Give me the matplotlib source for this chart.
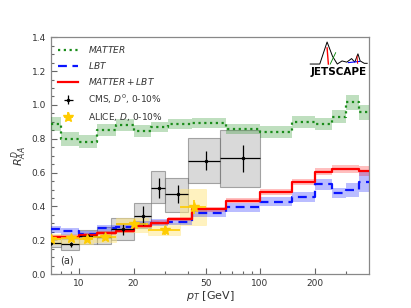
import matplotlib; matplotlib.use('Agg')
import matplotlib.pyplot as plt
import matplotlib.ticker as mt
from matplotlib.patches import Rectangle
import numpy as np

# ---- model curves (step histograms) ----
edges = [7, 8, 10, 12.5, 16, 20, 25, 31, 42, 65, 100, 150, 200, 250, 300, 350, 400]
matter = [0.887, 0.798, 0.783, 0.852, 0.879, 0.846, 0.869, 0.885, 0.891, 0.858,
          0.842, 0.901, 0.887, 0.931, 1.015, 0.956]
matter_err = [0.04, 0.04, 0.04, 0.035, 0.035, 0.035, 0.03, 0.03, 0.03, 0.03,
              0.035, 0.035, 0.035, 0.04, 0.045, 0.045]
lbt = [0.264, 0.254, 0.235, 0.27, 0.28, 0.296, 0.303, 0.31, 0.359, 0.394,
       0.428, 0.457, 0.53, 0.481, 0.497, 0.546]
lbt_err = [0.02, 0.02, 0.02, 0.02, 0.02, 0.02, 0.02, 0.02, 0.02, 0.025,
           0.025, 0.03, 0.03, 0.03, 0.04, 0.06]
mlbt = [0.217, 0.217, 0.233, 0.241, 0.257, 0.287, 0.305, 0.328, 0.383, 0.434,
        0.483, 0.542, 0.605, 0.621, 0.621, 0.608]
mlbt_err = [0.012, 0.012, 0.012, 0.012, 0.012, 0.012, 0.012, 0.012, 0.015, 0.015,
            0.018, 0.018, 0.02, 0.025, 0.025, 0.03]

# ---- CMS D0 0-10% ----
cms_lo = [6, 8, 10, 12.5, 15, 20, 25, 30, 40, 60]
cms_hi = [8, 10, 12.5, 15, 20, 25, 30, 40, 60, 100]
cms_pt = [7, 9, 11.25, 13.75, 17.5, 22.5, 27.5, 35, 50, 80]
cms_y = [0.185, 0.176, 0.225, 0.221, 0.264, 0.345, 0.507, 0.474, 0.67, 0.684]
cms_stat = [0.015, 0.015, 0.015, 0.02, 0.035, 0.055, 0.06, 0.055, 0.055, 0.08]
cms_sys_lo = [0.16, 0.14, 0.18, 0.18, 0.20, 0.27, 0.418, 0.369, 0.536, 0.513]
cms_sys_hi = [0.21, 0.21, 0.26, 0.28, 0.33, 0.418, 0.609, 0.57, 0.802, 0.852]

# ---- ALICE D 0-10% ----
al_lo = [6, 8, 10, 12, 16, 24, 36]
al_hi = [8, 10, 12, 16, 24, 36, 50]
al_pt = [7, 9, 11, 14, 20, 30, 43]
al_y = [0.205, 0.212, 0.205, 0.221, 0.296, 0.258, 0.398]
al_stat = [0.015, 0.015, 0.015, 0.015, 0.02, 0.025, 0.04]
al_sys_lo = [0.18, 0.18, 0.18, 0.19, 0.25, 0.23, 0.29]
al_sys_hi = [0.235, 0.24, 0.235, 0.255, 0.33, 0.30, 0.505]

GRAY = '#666666'
plt.rcParams['font.size'] = 6.5
fig = plt.figure(figsize=(4.11, 3.08), dpi=100)
ax = fig.add_axes([0.124, 0.110, 0.774, 0.769])

def stepband(vals, errs, col, ls, lw, lab, a):
    v = np.array(vals + [vals[-1]]); e = np.array(errs + [errs[-1]])
    ax.fill_between(edges, v - e, v + e, step='post', color=col, alpha=a, lw=0, zorder=3)
    ax.step(edges, v, where='post', color=col, ls=ls, lw=lw, label=lab, zorder=4)

stepband(matter, matter_err, '#1a8c1a', (0, (1, 1.6)), 1.6, r'$MATTER$', 0.28)
stepband(lbt, lbt_err, '#0a14ff', (0, (4, 2.5)), 1.6, r'$LBT$', 0.28)
stepband(mlbt, mlbt_err, '#ff0000', '-', 1.6, r'$MATTER+LBT$', 0.25)

for lo, hi, a, b in zip(cms_lo, cms_hi, cms_sys_lo, cms_sys_hi):
    ax.add_patch(Rectangle((lo, a), hi - lo, b - a, fc='#bbbbbb', ec='#666666',
                           alpha=0.55, lw=0.8, zorder=2))
for lo, hi, a, b in zip(al_lo, al_hi, al_sys_lo, al_sys_hi):
    ax.add_patch(Rectangle((lo, a), hi - lo, b - a, fc='#ffe680', ec='#ffe680',
                           alpha=0.5, lw=0.5, zorder=2))

cx = [np.array(cms_pt) - np.array(cms_lo), np.array(cms_hi) - np.array(cms_pt)]
ax.errorbar(cms_pt, cms_y, xerr=cx, yerr=cms_stat, fmt='o', ms=1.5, color='black',
            elinewidth=0.9, capsize=0, label=r'CMS, $D^0$, 0-10%', zorder=6)
axx = [np.array(al_pt) - np.array(al_lo), np.array(al_hi) - np.array(al_pt)]
ax.errorbar(al_pt, al_y, xerr=axx, yerr=al_stat, fmt='*', ms=7, color='#ffcc00',
            elinewidth=1.2, capsize=0, label=r'ALICE, $D$, 0-10%', zorder=7)

ax.set_xscale('log')
ax.set_xlim(7, 400)
ax.set_ylim(0, 1.4)
ax.xaxis.set_major_locator(mt.FixedLocator([10, 20, 50, 100, 200]))
ax.xaxis.set_major_formatter(mt.FixedFormatter(['10', '20', '50', '100', '200']))
ax.xaxis.set_minor_locator(mt.FixedLocator([8, 9, 30, 40, 60, 70, 80, 90, 300]))
ax.xaxis.set_minor_formatter(mt.NullFormatter())
ax.yaxis.set_major_locator(mt.MultipleLocator(0.2))
ax.yaxis.set_minor_locator(mt.MultipleLocator(0.05))
ax.yaxis.set_major_formatter(mt.FormatStrFormatter('%.1f'))
ax.tick_params(which='both', direction='in', colors=GRAY, labelcolor='#333333', width=0.8)
ax.tick_params(which='major', length=4, labelsize=6.5)
ax.tick_params(which='minor', length=2)
for s in ax.spines.values():
    s.set_color('#888888'); s.set_linewidth(0.9)

ax.set_xlabel(r'$p_T$ [GeV]', fontsize=8, color='#333333', labelpad=1)
ax.set_ylabel(r'$R_{AA}^{D}$', fontsize=8, color='#333333', labelpad=2)

ax.legend(loc='upper left', frameon=False, fontsize=6.5, handlelength=2.2,
          labelspacing=0.55, borderaxespad=0.4, handletextpad=1.1, labelcolor='#333333')
ax.text(0.03, 0.045, '(a)', transform=ax.transAxes, fontsize=7, color='#333333')

# JETSCAPE logo (sketch)
lx = [0.815, 0.845, 0.868, 0.885, 0.90, 0.915, 0.93, 0.945, 0.955, 0.965, 0.972, 0.985, 0.994]
ly = [0.887, 0.887, 0.98, 0.92, 0.887, 0.90, 0.895, 0.91, 0.895, 0.93, 0.90, 0.89, 0.89]
ax.plot(lx, ly, transform=ax.transAxes, color='black', lw=0.7, zorder=8)
ax.plot([0.868, 0.872], [0.955, 0.887], transform=ax.transAxes, color='red', lw=1.0, zorder=9)
ax.plot([0.878, 0.895], [0.887, 0.935], transform=ax.transAxes, color='green', lw=0.6, zorder=9)
ax.plot([0.935, 0.97], [0.893, 0.898], transform=ax.transAxes, color='blue', lw=0.8, zorder=9)
ax.plot([0.962, 0.964], [0.92, 0.89], transform=ax.transAxes, color='red', lw=0.7, zorder=9)
ax.text(0.905, 0.853, 'JETSCAPE', transform=ax.transAxes, ha='center', va='center',
        fontsize=7.5, fontweight='heavy', family='DejaVu Sans', zorder=9)

fig.savefig('out.png', dpi=100)
